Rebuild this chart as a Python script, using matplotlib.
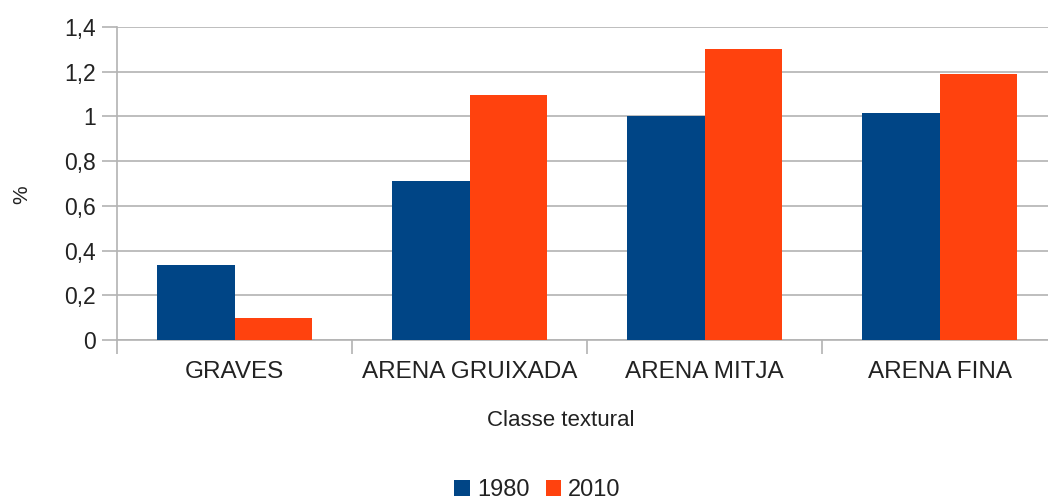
import matplotlib
matplotlib.use("Agg")
import matplotlib.pyplot as plt
import numpy as np
from matplotlib.ticker import FixedLocator, FuncFormatter

categories = ["GRAVES", "ARENA GRUIXADA", "ARENA MITJA", "ARENA FINA"]
series_names = ["1980", "2010"]
values_1980 = [0.335, 0.71, 1.0, 1.015]
values_2010 = [0.10, 1.095, 1.30, 1.19]
yticks = [0, 0.2, 0.4, 0.6, 0.8, 1.0, 1.2, 1.4]

plt.rcParams['font.family'] = ['Liberation Sans', 'DejaVu Sans']

fig = plt.figure(figsize=(10.48, 5.0), dpi=100)
ax = fig.add_axes([117 / 1048, 0.32, (1057 - 117) / 1048, 0.946 - 0.32])

x = np.arange(len(categories))
w = 0.33
ax.bar(x - w / 2, values_1980, width=w, color="#004586", label=series_names[0], zorder=3)
ax.bar(x + w / 2, values_2010, width=w, color="#ff420e", label=series_names[1], zorder=3)

ax.set_xlim(-0.5, len(categories) - 0.5)
ax.set_ylim(0, 1.4)
ax.set_yticks(yticks)
ax.yaxis.set_major_formatter(FuncFormatter(lambda v, p: ("%g" % round(v, 1)).replace(".", ",")))
ax.yaxis.grid(True, color="#b3b3b3", linewidth=1.2, zorder=0)
ax.tick_params(axis="y", length=11, width=1.2, color="#b3b3b3", labelsize=16.5, labelcolor="#222222", pad=4)

ax.xaxis.set_major_locator(FixedLocator(np.arange(-0.5, len(categories), 1.0)))
ax.xaxis.set_major_formatter(FuncFormatter(lambda v, p: ""))
ax.xaxis.set_minor_locator(FixedLocator(x))
ax.set_xticklabels(categories, minor=True)
ax.tick_params(axis="x", which="major", length=10, width=1.2, color="#b3b3b3")
ax.tick_params(axis="x", which="minor", length=0, labelsize=17.5, labelcolor="#222222", pad=15)

for s in ["top", "right"]:
    ax.spines[s].set_visible(False)
for s in ["left", "bottom"]:
    ax.spines[s].set_color("#b3b3b3")
    ax.spines[s].set_linewidth(1.2)

fig.text(561 / 1048, 1 - 420 / 500, "Classe textural", fontsize=16, color="#222222",
         ha="center", va="center")
fig.text(0.021, 0.61, "%", rotation=90, fontsize=15, color="#222222", ha="center", va="center")

fig.legend(loc="center", bbox_to_anchor=(0.513, 0.02), ncol=2, frameon=False,
           fontsize=17, handlelength=0.65, handleheight=0.65, handletextpad=0.3,
           columnspacing=0.7, labelcolor="#222222")

fig.savefig("out.png", dpi=100)
